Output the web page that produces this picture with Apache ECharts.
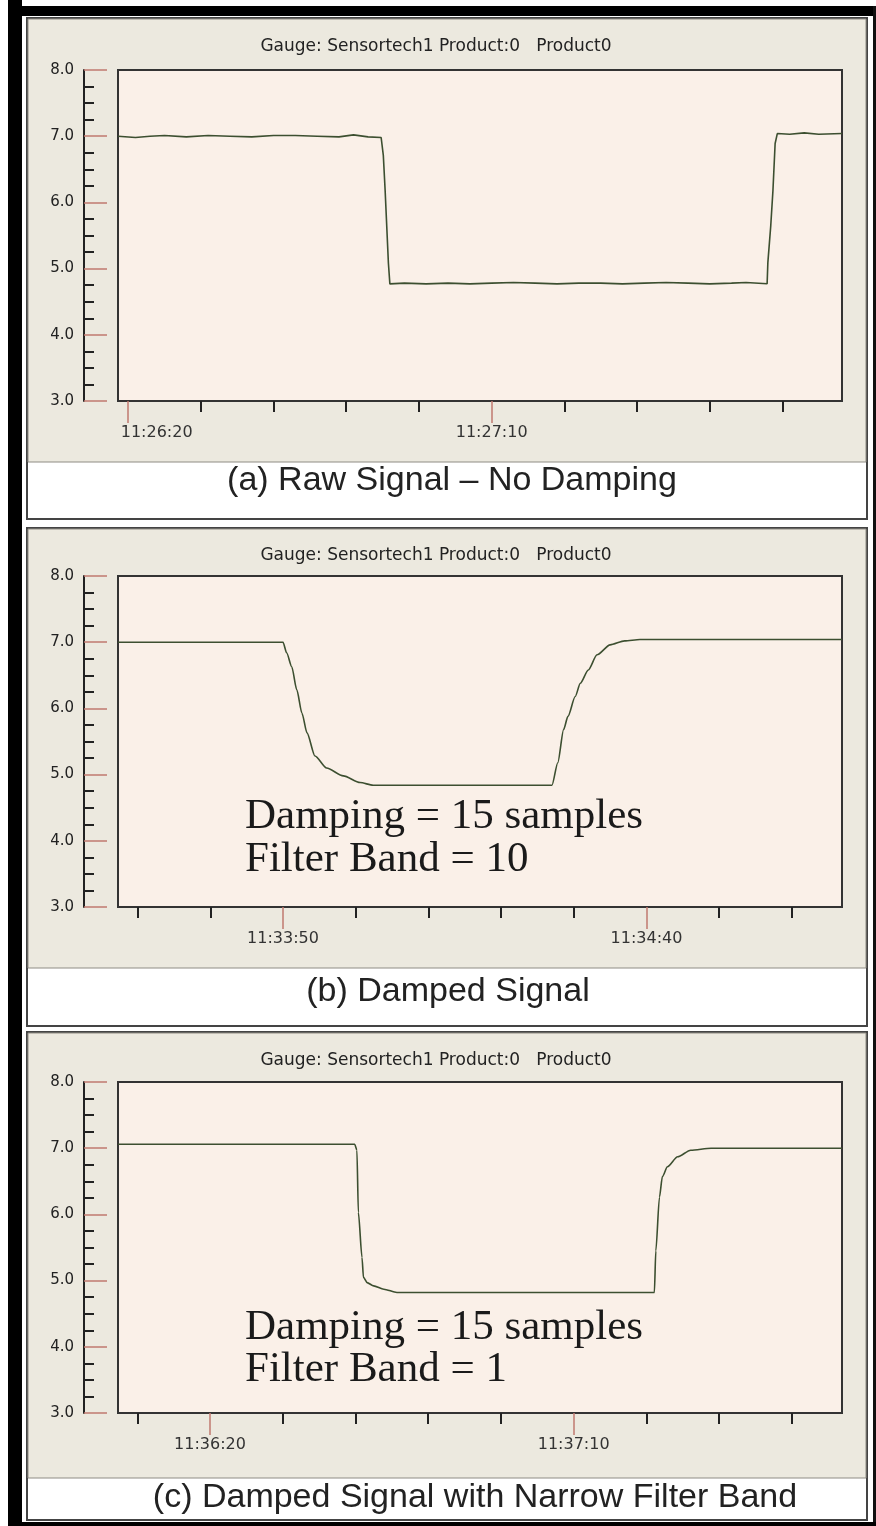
<!DOCTYPE html>
<html>
<head>
<meta charset="utf-8">
<script src="https://cdn.jsdelivr.net/npm/echarts@6/dist/echarts.min.js"></script>
<style>
html,body{margin:0;padding:0;background:#fff;}
#chart{width:876px;height:1526px;}
</style>
</head>
<body>
<div id="chart"></div>
<script>
// ---------- DATA ----------
const gaugeTitle = 'Gauge: Sensortech1 Product:0   Product0';

// Panel (a) raw signal: seconds relative to aBase, values
const aBase = '11:26:20';
const aRange = [-1.4, 98.2];
const aTime = [-1.4, 1, 3, 5, 8, 11, 14, 17, 20, 23, 26, 29, 31, 33, 34.8, 35.1, 35.35, 35.8, 36.0, 38, 41, 44, 47, 50, 53, 56, 59, 62, 65, 68, 71, 74, 77, 80, 83, 85, 87.9, 88.0, 88.4, 88.7, 89.0, 89.3, 91, 93, 95, 98.2];
const aValue = [7.00, 6.98, 7.00, 7.01, 6.99, 7.01, 7.00, 6.99, 7.01, 7.01, 7.00, 6.99, 7.02, 6.99, 6.98, 6.71, 6.18, 5.08, 4.77, 4.78, 4.77, 4.78, 4.77, 4.78, 4.79, 4.78, 4.77, 4.78, 4.78, 4.77, 4.78, 4.79, 4.78, 4.77, 4.78, 4.79, 4.77, 5.09, 5.65, 6.18, 6.89, 7.04, 7.03, 7.05, 7.03, 7.04];
const aTicks = ['11:26:20','11:26:30','11:26:40','11:26:50','11:27:00','11:27:10','11:27:20','11:27:30','11:27:40','11:27:50'];
const aLabels = ['11:26:20','11:27:10'];

// Panel (b) damped signal
const bBase = '11:33:50';
const bRange = [-22.7, 76.9];
const bTime = [-22.7, -10, 0, 0.5, 1.2, 1.9, 2.6, 3.3, 4.4, 6.0, 8.3, 10.6, 12.4, 25, 37.0, 37.8, 38.6, 39.2, 40.2, 40.9, 42.0, 43.2, 45.0, 47.0, 49.1, 60, 76.9];
const bValue = [7.00, 7.00, 7.00, 6.84, 6.63, 6.28, 5.93, 5.63, 5.28, 5.10, 4.98, 4.88, 4.84, 4.84, 4.84, 5.18, 5.68, 5.88, 6.18, 6.38, 6.58, 6.81, 6.96, 7.02, 7.04, 7.04, 7.04];
const bTicks = ['11:33:30','11:33:40','11:33:50','11:34:00','11:34:10','11:34:20','11:34:30','11:34:40','11:34:50','11:35:00'];
const bLabels = ['11:33:50','11:34:40'];

// Panel (c) damped signal with narrow filter band
const cBase = '11:36:20';
const cRange = [-12.65, 86.9];
const cTime = [-12.65, 0, 10, 19.9, 20.2, 20.4, 20.9, 21.1, 21.6, 22.5, 23.9, 25.7, 40, 61.1, 61.3, 61.8, 62.2, 62.9, 64.3, 66.1, 68.9, 80, 86.9];
const cValue = [7.06, 7.06, 7.06, 7.06, 6.97, 6.03, 5.35, 5.05, 4.97, 4.92, 4.87, 4.82, 4.82, 4.82, 5.45, 6.26, 6.57, 6.72, 6.87, 6.97, 7.00, 7.00, 7.00];
const cTicks = ['11:36:10','11:36:20','11:36:30','11:36:40','11:36:50','11:37:00','11:37:10','11:37:20','11:37:30','11:37:40'];
const cLabels = ['11:36:20','11:37:10'];

const yTickMin = 3, yTickMax = 8;
const captions = ['(a) Raw Signal \u2013 No Damping', '(b) Damped Signal', '(c) Damped Signal with Narrow Filter Band'];
const notesB = ['Damping = 15 samples', 'Filter Band = 10'];
const notesC = ['Damping = 15 samples', 'Filter Band = 1'];

// ---------- HELPERS ----------
function toSec(s){ const p = s.split(':').map(Number); return p[0]*3600 + p[1]*60 + p[2]; }
function pad(n){ return (n < 10 ? '0' : '') + n; }
function fmt(v){ v = Math.round(v); const h = Math.floor(v/3600), m = Math.floor((v%3600)/60), s = v%60; return h + ':' + pad(m) + ':' + pad(s); }

const panels = [
  {base:aBase, range:aRange, time:aTime, value:aValue, ticks:aTicks, labels:aLabels, top:70, boxTop:18, grayBottom:462, boxBottom:519, titleY:47, capY:481, capX:452, padFirst:true, smooth:false},
  {base:bBase, range:bRange, time:bTime, value:bValue, ticks:bTicks, labels:bLabels, top:576, boxTop:528, grayBottom:968, boxBottom:1026, titleY:556, capY:992, capX:448, notes:notesB, notesY:[817,860], smooth:0.25},
  {base:cBase, range:cRange, time:cTime, value:cValue, ticks:cTicks, labels:cLabels, top:1082, boxTop:1032, grayBottom:1478, boxBottom:1520, titleY:1061, capY:1498, capX:475, notes:notesC, notesY:[1328,1370], smooth:0.25}
];

const grids = [], xAxes = [], yAxes = [], series = [], graphics = [];
const lineColor = '#3c4f30';
const redTick = '#c07a70';

// outer frame
graphics.push({type:'rect', z:-10, shape:{x:8,y:0,width:14,height:1526}, style:{fill:'#000'}});
graphics.push({type:'rect', z:-10, shape:{x:8,y:6,width:868,height:10}, style:{fill:'#000'}});
graphics.push({type:'rect', z:-10, shape:{x:873,y:6,width:3,height:1520}, style:{fill:'#111'}});
graphics.push({type:'rect', z:-10, shape:{x:8,y:1522,width:868,height:4}, style:{fill:'#000'}});

panels.forEach((p, i) => {
  const b = toSec(p.base);
  grids.push({left:118, top:p.top, width:724, height:331, show:true, backgroundColor:'#FAF0E8', borderColor:'#333', borderWidth:2});
  const minX = b + p.range[0], maxX = b + p.range[1];
  const tickVals = p.ticks.map(toSec);
  const labVals = p.labels.map(toSec);
  xAxes.push({
    gridIndex:i, type:'value', min:minX, max:maxX, position:'bottom',
    axisLine:{show:false, onZero:false}, splitLine:{show:false},
    axisTick:{show:true, customValues:tickVals.filter(v => labVals.indexOf(v) < 0), length:11, lineStyle:{color:'#222', width:2}},
    axisLabel:{show:false}
  });
  const first = labVals[0];
  xAxes.push({
    gridIndex:i, type:'value', min:minX, max:maxX, position:'bottom',
    axisLine:{show:false, onZero:false}, splitLine:{show:false},
    axisTick:{show:true, customValues:labVals, length:22, lineStyle:{color:redTick, width:1.5}},
    axisLabel:{
      show:true, customValues:labVals, margin:24, fontSize:16, fontFamily:'DejaVu Sans', color:'#333',
      formatter: v => (p.padFirst && Math.abs(v-first) < 0.01) ? '{p|}{t|' + fmt(v) + '}' : fmt(v),
      rich:{p:{width:57}, t:{fontSize:16, fontFamily:'DejaVu Sans', color:'#333'}}
    }
  });
  yAxes.push({
    gridIndex:i, type:'value', min:yTickMin, max:yTickMax, interval:1, position:'left', offset:34,
    axisLine:{show:true, onZero:false, lineStyle:{color:'#222', width:2}},
    axisTick:{show:true, inside:true, length:23, lineStyle:{color:redTick, width:1.5}},
    minorTick:{show:true, splitNumber:4, length:10, lineStyle:{color:'#222', width:2}},
    splitLine:{show:false}, minorSplitLine:{show:false},
    axisLabel:{margin:10, fontSize:15, fontFamily:'DejaVu Sans', color:'#222', formatter: v => v.toFixed(1)}
  });
  series.push({
    type:'line', xAxisIndex:2*i+1, yAxisIndex:i, showSymbol:false, symbol:'none',
    smooth:p.smooth, smoothMonotone:'x',
    lineStyle:{color:lineColor, width:1.6}, animation:false,
    data: p.time.map((t, k) => [b + t, p.value[k]])
  });
  // panel box
  graphics.push({type:'rect', z:-9, shape:{x:27,y:p.boxTop,width:840,height:p.boxBottom-p.boxTop}, style:{fill:'#fff', stroke:'#444', lineWidth:2}});
  graphics.push({type:'rect', z:-8, shape:{x:28,y:p.boxTop+1,width:838,height:p.grayBottom-p.boxTop-1}, style:{fill:'#ECE9DF', stroke:'#8f8c84', lineWidth:1}});
  graphics.push({type:'text', z:100, style:{text:gaugeTitle, x:436, y:p.titleY, textAlign:'center', textVerticalAlign:'middle', font:'17px "DejaVu Sans"', fill:'#222'}});
  graphics.push({type:'text', z:100, style:{text:captions[i], x:p.capX, y:p.capY, textAlign:'center', textVerticalAlign:'middle', font:'34px "Liberation Sans"', fill:'#222'}});
  if (p.notes) {
    p.notes.forEach((n, k) => {
      graphics.push({type:'text', z:100, style:{text:n, x:245, y:p.notesY[k], textAlign:'left', textVerticalAlign:'middle', font:'43px "Liberation Serif"', fill:'#1a1a1a'}});
    });
  }
});

const chart = echarts.init(document.getElementById('chart'), null, {renderer:'canvas'});
chart.setOption({
  animation:false,
  backgroundColor:'#fff',
  grid:grids, xAxis:xAxes, yAxis:yAxes, series:series, graphic:graphics
});
</script>
</body>
</html>
